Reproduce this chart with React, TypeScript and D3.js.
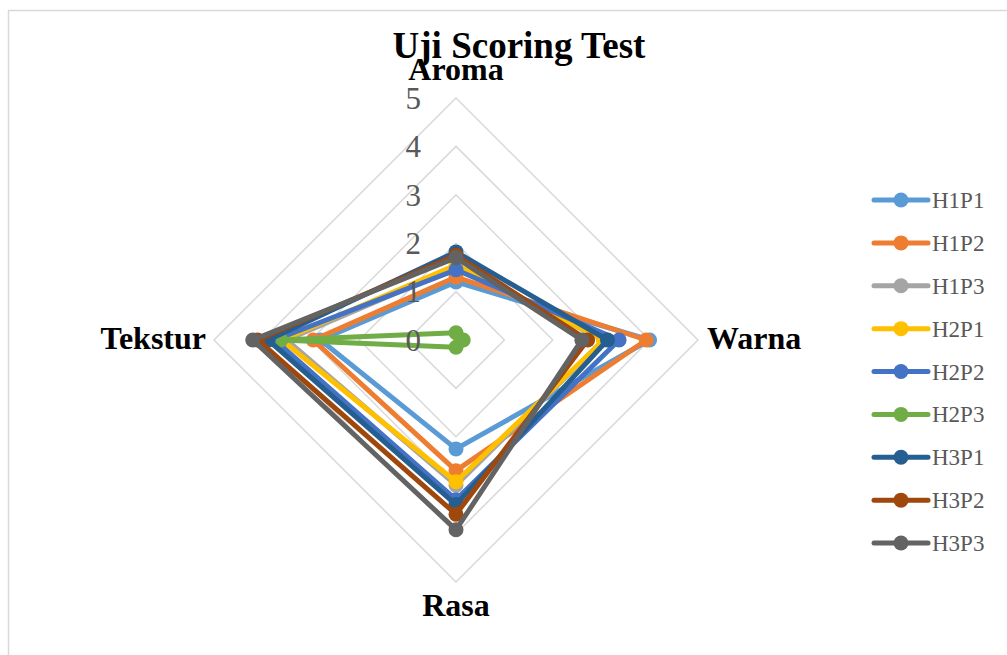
import React, { useEffect, useRef } from "react";
import * as d3 from "d3";

const axes = ["Aroma", "Warna", "Rasa", "Tekstur"];
const seriesNames = ["H1P1", "H1P2", "H1P3", "H2P1", "H2P2", "H2P3", "H3P1", "H3P2", "H3P3"];
const colors = ["#5B9BD5", "#ED7D31", "#A5A5A5", "#FFC000", "#4472C4", "#70AD47", "#255E91", "#9E480E", "#636363"];
// values per series, in axis order Aroma, Warna, Rasa, Tekstur
const H1P1 = [1.2, 4.0, 2.25, 2.8];
const H1P2 = [1.3, 3.93, 2.7, 2.95];
const H1P3 = [1.5, 3.05, 3.0, 3.5];
const H2P1 = [1.55, 3.05, 2.93, 3.6];
const H2P2 = [1.45, 3.37, 3.3, 3.75];
const H2P3 = [0.15, 0.15, 0.15, 3.62];
const H3P1 = [1.82, 3.13, 3.4, 3.88];
const H3P2 = [1.75, 2.72, 3.6, 4.1];
const H3P3 = [1.7, 2.6, 3.92, 4.2];
const ticks = [0, 1, 2, 3, 4, 5];

const App: React.FC = () => {
  const svgRef = useRef<SVGSVGElement | null>(null);

  useEffect(() => {
    const width = 1007;
    const height = 655;
    const cx = 456;
    const cy = 340;
    const values = [H1P1, H1P2, H1P3, H2P1, H2P2, H2P3, H3P1, H3P2, H3P3];

    const svg = d3.select(svgRef.current);
    svg.selectAll("*").remove();
    svg.attr("width", width).attr("height", height);

    // chart border
    svg
      .append("rect")
      .attr("x", 8.5)
      .attr("y", 10.5)
      .attr("width", 1100)
      .attr("height", 700)
      .attr("fill", "white")
      .attr("stroke", "#d9d9d9")
      .attr("stroke-width", 1.5);

    const r = d3.scaleLinear().domain([0, 5]).range([0, 242]);
    const angle = (i: number) => (i * 2 * Math.PI) / axes.length;
    const pt = (v: number, i: number): [number, number] => [
      cx + r(v) * Math.sin(angle(i)),
      cy - r(v) * Math.cos(angle(i)),
    ];

    const line = d3.line<[number, number]>().curve(d3.curveLinearClosed);

    // grid
    ticks.slice(1).forEach((t) => {
      svg
        .append("path")
        .attr("d", line(axes.map((_, i) => pt(t, i))))
        .attr("fill", "none")
        .attr("stroke", "#d9d9d9")
        .attr("stroke-width", 1.5);
    });

    // series
    values.forEach((vals, s) => {
      const pts = vals.map((v, i) => pt(v, i));
      svg
        .append("path")
        .attr("d", line(pts))
        .attr("fill", "none")
        .attr("stroke", colors[s])
        .attr("stroke-width", 5)
        .attr("stroke-linejoin", "round");
      svg
        .selectAll(null)
        .data(pts)
        .enter()
        .append("circle")
        .attr("cx", (d) => d[0])
        .attr("cy", (d) => d[1])
        .attr("r", 7.5)
        .attr("fill", colors[s]);
    });

    // tick labels
    svg
      .append("g")
      .selectAll("text")
      .data(ticks)
      .enter()
      .append("text")
      .attr("x", cx - 35)
      .attr("y", (d) => cy - r(d))
      .attr("dy", "0.35em")
      .attr("text-anchor", "end")
      .attr("font-family", "'Liberation Serif', serif")
      .attr("font-size", 31)
      .attr("fill", "#595959")
      .text((d) => d);

    // axis labels
    const labelPos = [
      { x: cx, y: 80, anchor: "middle" },
      { x: 707, y: 349, anchor: "start" },
      { x: cx, y: 616, anchor: "middle" },
      { x: 206, y: 349, anchor: "end" },
    ];
    axes.forEach((a, i) => {
      svg
        .append("text")
        .attr("x", labelPos[i].x)
        .attr("y", labelPos[i].y)
        .attr("text-anchor", labelPos[i].anchor)
        .attr("font-family", "'Liberation Serif', serif")
        .attr("font-weight", "bold")
        .attr("font-size", 32)
        .attr("fill", "#000")
        .text(a);
    });

    // title
    svg
      .append("text")
      .attr("x", 519)
      .attr("y", 58)
      .attr("text-anchor", "middle")
      .attr("font-family", "'Liberation Serif', serif")
      .attr("font-weight", "bold")
      .attr("font-size", 37)
      .attr("fill", "#000")
      .text("Uji Scoring Test");

    // legend
    const ly = d3.scalePoint().domain(seriesNames).range([200, 543]);
    const legend = svg
      .append("g")
      .selectAll("g")
      .data(seriesNames)
      .enter()
      .append("g")
      .attr("transform", (d) => `translate(0,${ly(d)})`);
    legend
      .append("line")
      .attr("x1", 874)
      .attr("x2", 928)
      .attr("stroke", (_, i) => colors[i])
      .attr("stroke-width", 5)
      .attr("stroke-linecap", "round");
    legend
      .append("circle")
      .attr("cx", 901)
      .attr("r", 7.5)
      .attr("fill", (_, i) => colors[i]);
    legend
      .append("text")
      .attr("x", 932)
      .attr("dy", "0.35em")
      .attr("font-family", "'Liberation Serif', serif")
      .attr("font-size", 23)
      .attr("fill", "#595959")
      .text((d) => d);
  }, []);

  return (
    <div style={{ position: "absolute", left: 0, top: 0 }}>
      <svg ref={svgRef}></svg>
    </div>
  );
};

export default App;
